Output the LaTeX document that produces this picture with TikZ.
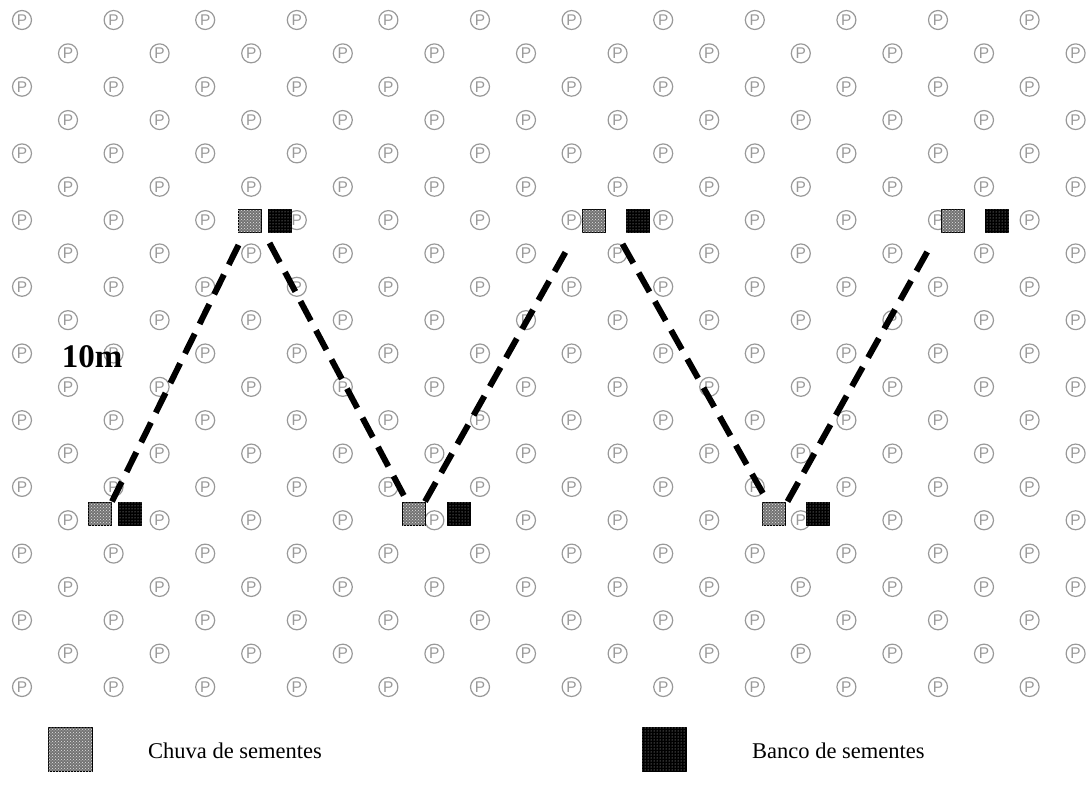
\documentclass[tikz,border=0pt]{standalone}
\usepackage{fontspec}
\setmainfont{Liberation Serif}
\newfontfamily\plantfont{Liberation Sans}
\usetikzlibrary{patterns}
\begin{document}
\begin{tikzpicture}[x=1pt,y=-1pt, line join=round,
	plant/.style={circle, draw=gray!80, line width=1.2pt, minimum size=19pt, inner sep=0pt,
		text=gray!80, font=\plantfont\fontsize{15.5}{15.5}\selectfont},
	rainbox/.style={draw=black, line width=1pt, minimum size=23pt, inner sep=0pt, fill=gray!110,
		postaction={pattern=crosshatch dots, pattern color=white!80!gray}},
	bankbox/.style={draw=black, line width=1pt, minimum size=23pt, inner sep=0pt, fill=black,
		postaction={pattern=dots, pattern color=gray!45}},
	transect/.style={line width=6pt, dash pattern=on 22pt off 11pt},
	keytext/.style={anchor=west, inner sep=0pt, font=\fontsize{22.5}{27}\selectfont}]
	\useasboundingbox (0,0) rectangle (1089,794);
	\def\dx{91.6} \def\dy{33.35} % grid step
	% plants (circled P)
	\foreach \r in {0,...,20}{
		\pgfmathsetmacro{\xo}{mod(\r,2)==0 ? 22 : 68}
		\foreach \c in {0,...,11}
			\node[plant] (p-\r-\c) at ({\xo+\dx*\c},{20+\dy*\r}) {P};
	}
	% sampling points
	\node[rainbox] (rain1) at (100,513.5) {};
	\node[bankbox] (bank1) at (130,513.5) {};
	\node[rainbox] (rain2) at (249.5,221) {};
	\node[bankbox] (bank2) at (279.5,221) {};
	\node[rainbox] (rain3) at (414,513.5) {};
	\node[bankbox] (bank3) at (459,513.5) {};
	\node[rainbox] (rain4) at (593.5,221) {};
	\node[bankbox] (bank4) at (638,221) {};
	\node[rainbox] (rain5) at (773.5,513.5) {};
	\node[bankbox] (bank5) at (818,513.5) {};
	\node[rainbox] (rain6) at (952.5,221) {};
	\node[bankbox] (bank6) at (997,221) {};
	% transect
	\draw[transect] (rain1.north east) -- ([shift={(2,10)}]rain2.south west);
	\draw[transect] ([shift={(2,10)}]bank2.south west) -- ([xshift=-7pt]rain3.north);
	\draw[transect] ([xshift=-1pt]rain3.north east) -- ([shift={(-12,12)}]rain4.south west);
	\draw[transect] ([shift={(17,11)}]rain4.south east) -- ([xshift=-6pt]rain5.north);
	\draw[transect] ([xshift=2pt]rain5.north east) -- ([shift={(-10,13)}]rain6.south west);
	\node[font=\bfseries\fontsize{33}{33}\selectfont, inner sep=0pt] (dist) at (92,357) {10m};
	% legend
	\node[rainbox, minimum size=44pt] (keyrain) at (70,749) {};
	\node[keytext] (keyraintxt) at (148,751) {Chuva de sementes};
	\node[bankbox, minimum size=44pt] (keybank) at (664,749) {};
	\node[keytext] (keybanktxt) at (752,751) {Banco de sementes};
\end{tikzpicture}
\end{document}
